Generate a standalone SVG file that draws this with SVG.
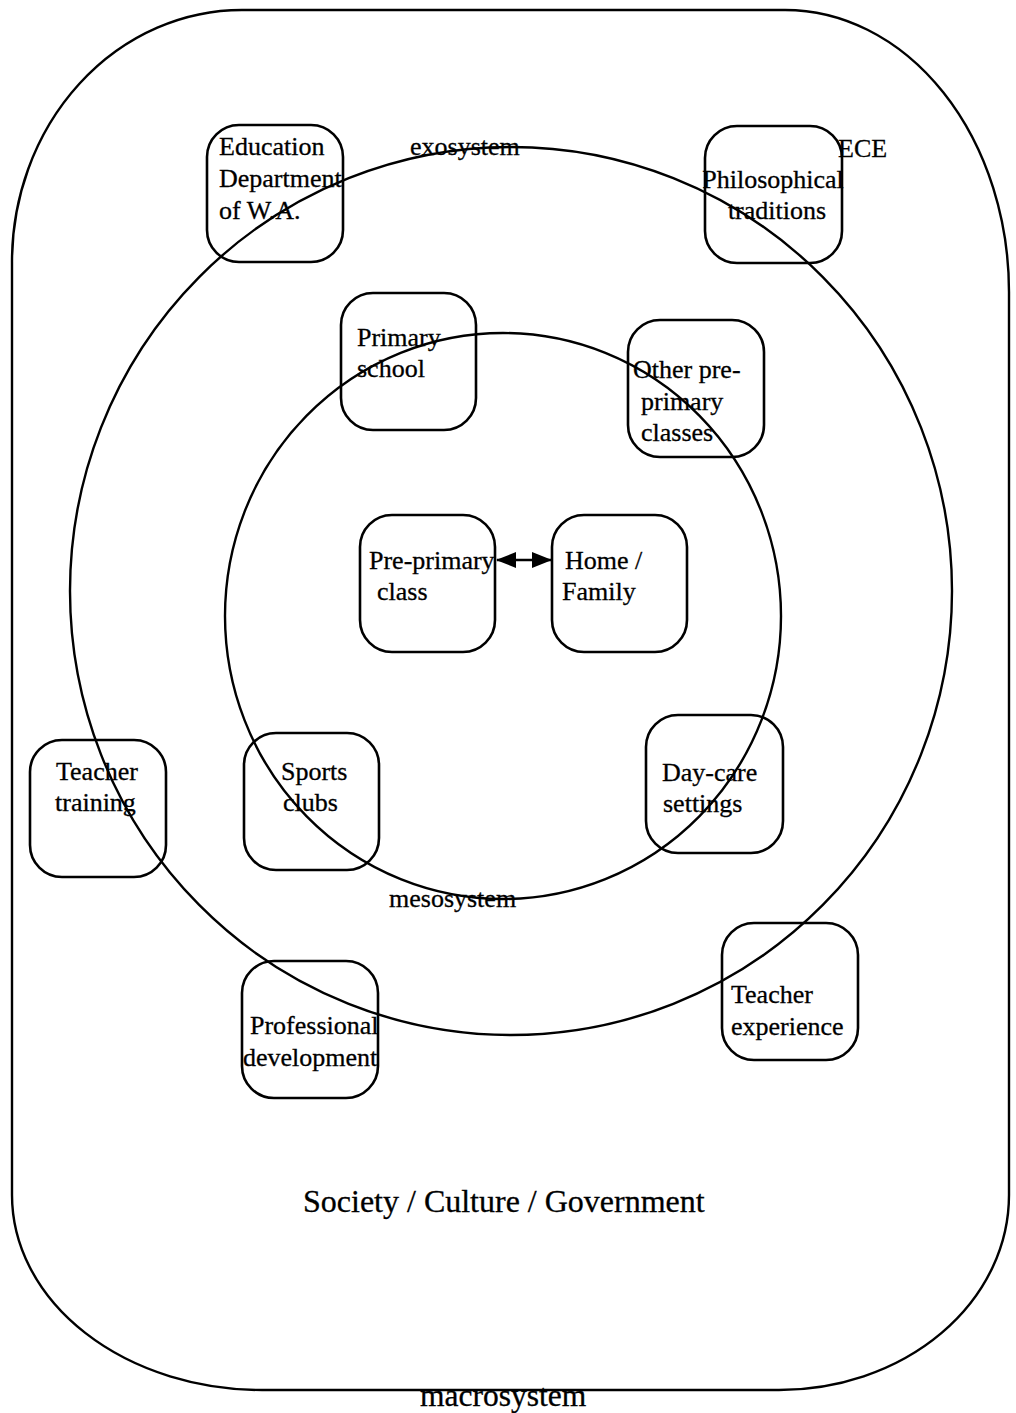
<svg xmlns="http://www.w3.org/2000/svg" width="1016" height="1413" viewBox="0 0 1016 1413">
<defs>
<style>
.sys{fill:none;stroke:#000;stroke-width:2.4}
.box{fill:none;stroke:#000;stroke-width:2.6}
.t{font-family:"Liberation Serif","Times New Roman",serif;font-size:26px;fill:#000;stroke:#000;stroke-width:0.3}
</style>
<marker id="ah" viewBox="0 0 20 16" refX="19" refY="8" markerWidth="20" markerHeight="16" markerUnits="userSpaceOnUse" orient="auto-start-reverse">
<path d="M0,0 L20,8 L0,16 Z" fill="#000"/>
</marker>
</defs>
<rect width="1016" height="1413" fill="#fff"/>
<g id="systems">
<path id="macrosystem" class="sys" d="M242,10 L785,10 A224,282 0 0 1 1009,292 L1009,1195 A230,195 0 0 1 779,1390 L262,1390 A250,195 0 0 1 12,1195 L12,262 A230,252 0 0 1 242,10 Z"/>
<ellipse id="exosystem" class="sys" cx="511" cy="591" rx="441" ry="444"/>
<ellipse id="mesosystem" class="sys" cx="503" cy="616" rx="278" ry="283"/>
</g>
<g id="labels" class="t">
<text x="410" y="155">exosystem</text>
<text x="389" y="907">mesosystem</text>
<text x="838" y="157">ECE</text>
<text x="303" y="1212" font-size="32">Society / Culture / Government</text>
<text x="420" y="1406" font-size="31.5">macrosystem</text>
</g>
<g id="node-education">
<rect class="box" x="207" y="125" width="136" height="137" rx="32"/>
<text class="t"><tspan x="219" y="155">Education</tspan><tspan x="219" y="187">Department</tspan><tspan x="219" y="219">of W.A.</tspan></text>
</g>
<g id="node-philosophical">
<rect class="box" x="705" y="126" width="137" height="137" rx="32"/>
<text class="t" text-anchor="middle"><tspan x="773" y="188">Philosophical</tspan><tspan x="777" y="219">traditions</tspan></text>
</g>
<g id="node-primary">
<rect class="box" x="341" y="293" width="135" height="137" rx="32"/>
<text class="t"><tspan x="357" y="346">Primary</tspan><tspan x="357" y="377">school</tspan></text>
</g>
<g id="node-other">
<rect class="box" x="628" y="320" width="136" height="137" rx="32"/>
<text class="t"><tspan x="633" y="378">Other pre-</tspan><tspan x="641" y="410">primary</tspan><tspan x="641" y="441">classes</tspan></text>
</g>
<g id="node-preprimary">
<rect class="box" x="360" y="515" width="135" height="137" rx="32"/>
<text class="t"><tspan x="369" y="569">Pre-primary</tspan><tspan x="377" y="600">class</tspan></text>
</g>
<g id="node-home">
<rect class="box" x="552" y="515" width="135" height="137" rx="32"/>
<text class="t"><tspan x="565" y="569">Home /</tspan><tspan x="562" y="600">Family</tspan></text>
</g>
<g id="node-teacher-training">
<rect class="box" x="30" y="740" width="136" height="137" rx="32"/>
<text class="t"><tspan x="56" y="780">Teacher</tspan><tspan x="55" y="811">training</tspan></text>
</g>
<g id="node-sports">
<rect class="box" x="244" y="733" width="135" height="137" rx="32"/>
<text class="t"><tspan x="281" y="780">Sports</tspan><tspan x="283" y="811">clubs</tspan></text>
</g>
<g id="node-daycare">
<rect class="box" x="646" y="715" width="137" height="138" rx="32"/>
<text class="t"><tspan x="662" y="781">Day-care</tspan><tspan x="663" y="812">settings</tspan></text>
</g>
<g id="node-professional">
<rect class="box" x="242" y="961" width="136" height="137" rx="32"/>
<text class="t"><tspan x="250" y="1034">Professional</tspan><tspan x="243" y="1066">development</tspan></text>
</g>
<g id="node-experience">
<rect class="box" x="722" y="923" width="136" height="137" rx="32"/>
<text class="t"><tspan x="731" y="1003">Teacher</tspan><tspan x="731" y="1035">experience</tspan></text>
</g>
<g id="connectors">
<line x1="497" y1="560" x2="551" y2="560" stroke="#000" stroke-width="2.4" marker-start="url(#ah)" marker-end="url(#ah)"/>
</g>
</svg>
